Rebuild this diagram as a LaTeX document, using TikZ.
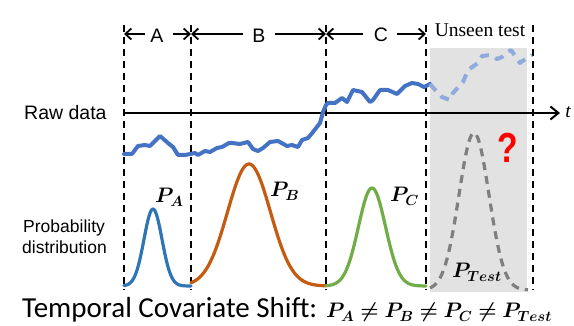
\documentclass[tikz,border=0pt]{standalone}
\usepackage{fix-cm}
\usepackage{bm}
\usepackage{fontspec}
\newfontfamily\arial{Liberation Sans}
\newfontfamily\tnr{Liberation Serif}
\newfontfamily\calib{Carlito}
\usetikzlibrary{arrows.meta}
\definecolor{rawblue}{HTML}{4472C4}
\definecolor{fadeblue}{HTML}{8FAADC}
\definecolor{pa}{HTML}{2E75B6}
\definecolor{pb}{HTML}{C55A11}
\definecolor{pc}{HTML}{70AD47}
\definecolor{ptest}{HTML}{7F7F7F}
\definecolor{boxgray}{HTML}{E2E2E2}
\tikzset{
  vline/.style={black, line width=2.3pt, dash pattern=on 7pt off 5pt},
  span/.style={line width=1.8pt, -{Straight Barb[length=6pt,width=11pt,line width=1.8pt]}},
  lbl/.style={inner sep=0pt, anchor=base},
  plab/.style={inner sep=0pt, anchor=base west, font=\fontsize{21}{24}\selectfont},
  gauss/.style={line width=3.2pt, line join=round, line cap=round},
  raw/.style={rawblue, line width=4pt, line join=round, line cap=round},
}
\begin{document}
\begin{tikzpicture}[x=1pt,y=-1pt]
\useasboundingbox (0,0) rectangle (574,326);
% gray test region
\fill[boxgray] (430,48) rectangle (527,292);
% boundary coordinates
\coordinate (atop) at (124,25); \coordinate (abot) at (124,290); \coordinate (aarr) at (124,34);
\coordinate (btop) at (191,25); \coordinate (bbot) at (191,290); \coordinate (barr) at (191,34);
\coordinate (ctop) at (326,25); \coordinate (cbot) at (326,290); \coordinate (carr) at (326,34);
\coordinate (dtop) at (426,25); \coordinate (dbot) at (426,290); \coordinate (darr) at (426,34);
\coordinate (etop) at (533,25); \coordinate (ebot) at (533,290);
\draw[vline] (atop) -- (abot);
\draw[vline] (btop) -- (bbot);
\draw[vline] (ctop) -- (cbot);
\draw[vline] (dtop) -- (dbot);
\draw[vline] (etop) -- (ebot);
% segment labels
\node[lbl, font=\arial\fontsize{19.5}{22}\selectfont] (A) at (157,43) {A};
\node[lbl, font=\arial\fontsize{19.5}{22}\selectfont] (B) at (259,43) {B};
\node[lbl, font=\arial\fontsize{19.5}{22}\selectfont] (C) at (381,42) {C};
\node[lbl, font=\tnr\fontsize{19.5}{22}\selectfont] (U) at (480,37) {Unseen test};
\coordinate (A1) at (145,34); \coordinate (A2) at (173,34);
\coordinate (B1) at (243,34); \coordinate (B2) at (275,34);
\coordinate (C1) at (363,34); \coordinate (C2) at (397,34);
\draw[span] (A1) -- (aarr);
\draw[span] (A2) -- (barr);
\draw[span] (B1) -- (barr);
\draw[span] (B2) -- (carr);
\draw[span] (C1) -- (carr);
\draw[span] (C2) -- (darr);
% time axis
\coordinate (ax0) at (124,113);
\coordinate (ax1) at (560,113);
\draw[line width=2pt, -{Straight Barb[length=8pt,width=13pt,line width=2pt]}] (ax0) -- (ax1);
\node[lbl, font=\tnr\itshape\fontsize{19.5}{22}\selectfont] (t) at (568,118) {t};
\node[lbl, anchor=base west, font=\arial\fontsize{19.5}{22}\selectfont] (raw) at (24,120) {Raw data};
\node[lbl, anchor=base west, font=\arial\fontsize{17.5}{21}\selectfont] (prob1) at (23,233) {Probability};
\node[lbl, anchor=base west, font=\arial\fontsize{17.5}{21}\selectfont] (prob2) at (22,254) {distribution};
% raw data series
\draw[raw] (124,154)--(127,154)--(132,154)--(138,146)--(145,145)--(150,146)--(160,136)--(168,143)--(173,147)--(178,155)--(185,155)--(190,154)--(195,153)--(198,155)--(205,151)--(210,152)--(217,148)--(222,147)--(229,143)--(232,143)--(240,144)--(248,142)--(253,149)--(258,151)--(263,148)--(270,142)--(278,141)--(287,146)--(292,145)--(298,147)--(302,140)--(308,138)--(313,132)--(320,123)--(323,112)--(326,105)--(328,103)--(335,103)--(342,98)--(347,102)--(353,90)--(362,92)--(370,102)--(373,100)--(380,90)--(388,90)--(397,94)--(405,86)--(412,83)--(418,84)--(424,87)--(430,84);
\draw[fadeblue, line width=4pt, line join=round, dash pattern=on 9pt off 7pt] (430,84)--(437,92)--(442,97)--(450,100)--(453,93)--(463,82)--(468,70)--(478,63)--(482,56)--(490,55)--(497,59)--(502,57)--(508,52)--(511,50)--(520,63)--(521,62)--(532,55);
% distributions
\draw[gauss, pa] plot[domain=-29:38, samples=80] ({153+\x},{286-77*exp(-(\x*\x)/162)});
\draw[gauss, pb] plot[domain=-58:77, samples=120] ({249+\x},{286-122*exp(-(\x*\x)/924)});
\draw[gauss, pc] plot[domain=-46:54, samples=100] ({372+\x},{286-98*exp(-(\x*\x)/365)});
\draw[ptest, line width=3.2pt, dash pattern=on 8pt off 6pt] plot[domain=-44:54, samples=100] ({474+\x},{290-157*exp(-(\x*\x)/450)});
% labels
\node[plab] (PA) at (155,203) {$\bm{P_A}$};
\node[plab] (PB) at (270,197) {$\bm{P_B}$};
\node[plab] (PC) at (390,202) {$\bm{P_C}$};
\node[plab] (PT) at (452,278) {$\bm{P_{Test}}$};
\node[inner sep=0pt, text=red, font=\arial\bfseries\fontsize{42}{46}\selectfont, xscale=0.8] (q) at (508,148) {?};
\node[inner sep=0pt, anchor=base west] (cap) at (22,318) {\calib\fontsize{29}{32}\selectfont Temporal Covariate Shift: \fontsize{21}{24}\selectfont$\bm{P_A \neq P_B \neq P_C \neq P_{Test}}$};
\end{tikzpicture}
\end{document}
